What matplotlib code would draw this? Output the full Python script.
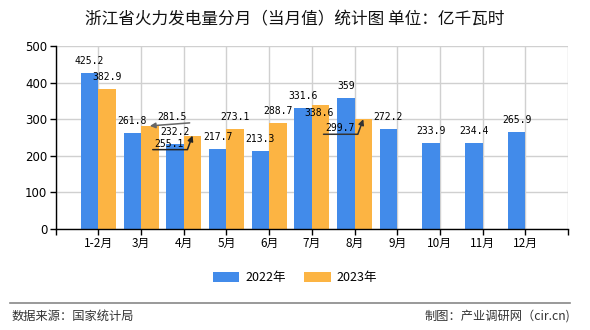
import matplotlib
matplotlib.use("Agg")
import matplotlib.pyplot as plt
import numpy as np

plt.rcParams['font.family'] = ['Noto Sans CJK SC', 'DejaVu Sans']

# data
months = ['1-2月', '3月', '4月', '5月', '6月', '7月', '8月', '9月', '10月', '11月', '12月']
gen_2022 = [425.2, 261.8, 232.2, 217.7, 213.3, 331.6, 359, 272.2, 233.9, 234.4, 265.9]
gen_2023 = [382.9, 281.5, 255.1, 273.1, 288.7, 338.6, 299.7]
series_names = ['2022年', '2023年']

blue = '#428BEA'
orange = '#FCB443'

fig = plt.figure(figsize=(5.9, 3.3), dpi=100)
ax = fig.add_axes([0.0944, 0.306, 0.8683, 0.555])

x = np.arange(len(months))
w = 0.41
ax.bar(x[:len(gen_2022)] - w / 2, gen_2022, w, color=blue, label=series_names[0], zorder=2)
ax.bar(x[:len(gen_2023)] + w / 2, gen_2023, w, color=orange, label=series_names[1], zorder=2)

ax.set_xlim(-1, 11)
ax.set_ylim(0, 500)
ax.set_xticks(np.arange(-1, 12))
ax.set_xticklabels([''] + months + [''], fontsize=8.5)
ax.set_yticks(np.arange(0, 501, 100))
ax.tick_params(axis='y', labelsize=8.5, length=4, width=1, pad=2)
ax.tick_params(axis='x', length=4, width=1, pad=2)
for lab in ax.get_yticklabels():
    lab.set_family('DejaVu Sans')
ax.grid(True, color='#d0d0d0', linewidth=1)
ax.set_axisbelow(True)
for s in ['top', 'right']:
    ax.spines[s].set_visible(False)
ax.spines['left'].set_linewidth(1)
ax.spines['bottom'].set_linewidth(1)

mono = 'DejaVu Sans Mono'

# value labels; a few are moved out of the way with a pointer line
callouts = {
    (1, 1): ((16, 6.5), (1.1, -0.1), 'arc3', '#666666'),
    (1, 2): ((-17, -5.8), (-0.05, -0.1), 'angle,angleA=0,angleB=70,rad=0', '#222222'),
    (1, 6): ((-17, -6.5), (-0.05, -0.1), 'angle,angleA=0,angleB=70,rad=0', '#333333'),
}
for k, (vals, off) in enumerate([(gen_2022, -w / 2), (gen_2023, w / 2)]):
    for i, v in enumerate(vals):
        xi = x[i] + off
        txt = f'{v:g}'
        if (k, i) in callouts:
            dxy, rel, conn, col = callouts[(k, i)]
            ax.annotate(txt, (xi, v), xytext=dxy, textcoords='offset points',
                        ha='center', va='center', fontsize=7, family=mono, zorder=5,
                        arrowprops=dict(arrowstyle='-|>', color=col, lw=1.1,
                                        relpos=rel, connectionstyle=conn, patchA=None,
                                        shrinkA=0, shrinkB=0, mutation_scale=8))
        elif (k, i) == (1, 5):
            ax.annotate(txt, (xi, v), xytext=(-1, -5.8), textcoords='offset points',
                        ha='center', va='center', fontsize=7, family=mono, zorder=5)
        else:
            ax.annotate(txt, (xi, v), xytext=(0, 8.6), textcoords='offset points',
                        ha='center', va='center', fontsize=7, family=mono, zorder=5)

fig.text(0.5, 0.94, '浙江省火力发电量分月（当月值）统计图 单位：亿千瓦时',
         ha='center', va='center', fontsize=12, color='#111111', fontweight='medium')

fig.legend(loc='center', bbox_to_anchor=(0.5, 0.158), ncol=2, frameon=False,
           fontsize=9, handlelength=2.1, handleheight=0.8, columnspacing=1.5,
           handletextpad=0.5)

fig.add_artist(plt.Line2D([0.017, 0.966], [0.082, 0.082], color='#888888', lw=1.2,
                          transform=fig.transFigure))
fig.text(0.02, 0.042, '数据来源：国家统计局', ha='left', va='center', fontsize=8.8, color='#333333')
fig.text(0.966, 0.042, '制图：产业调研网（cir.cn)', ha='right', va='center', fontsize=8.8, color='#333333')

fig.savefig('out.png', dpi=100)
